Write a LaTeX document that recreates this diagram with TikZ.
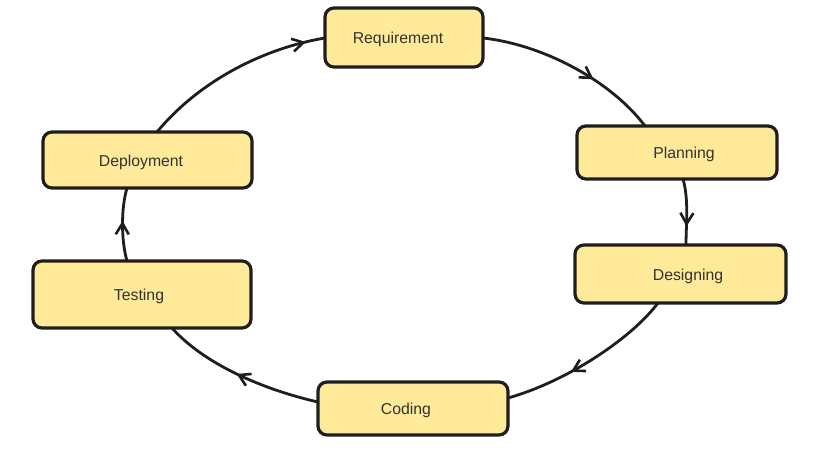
\documentclass[tikz,border=0pt]{standalone}
\usepackage{fontspec}
\setmainfont{Liberation Sans}
\usetikzlibrary{arrows.meta,decorations.markings,calc}
\definecolor{boxfill}{HTML}{FFEA99}
\definecolor{ink}{HTML}{1E1E1E}
\definecolor{txt}{HTML}{333333}
\tikzset{
  box/.style={draw=ink, fill=boxfill, line width=3.2pt, rounded corners=9pt, inner sep=0pt},
  lbl/.style={text=txt, font=\fontsize{15.8}{18}\selectfont, inner sep=0pt, yshift=-2pt},
  conn/.style={draw=ink, line width=2.8pt, line cap=round},
  midarrow/.style={postaction={decorate}, decoration={markings,
      mark=at position #1 with {\arrow{Straight Barb[length=11pt,width=13pt,line width=2.6pt]}}}}
}
\begin{document}
\begin{tikzpicture}[x=1pt,y=1pt]
\useasboundingbox (0,0) rectangle (838,-455);
\fill[white] (0,0) rectangle (838,-455);

% connectors (drawn first, under the boxes)
\coordinate (r1) at (483,-38);
\coordinate (p0) at (645,-126);
\coordinate (p1) at (683,-179);
\coordinate (d0) at (686,-245);
\coordinate (d1) at (658,-303);
\coordinate (c0) at (508,-398);
\coordinate (c1) at (318,-402);
\coordinate (t0) at (172,-328);
\coordinate (t1) at (127,-261);
\coordinate (e0) at (127,-188);
\coordinate (e1) at (157,-132);
\coordinate (r0) at (325,-38);

\path[conn, midarrow=0.63] (r1) .. controls (545,-45) and (612,-82) .. (p0);
\path[conn, midarrow=0.72] (p1) .. controls (689,-200) and (686,-225) .. (d0);
\path[conn, midarrow=0.62] (d1) .. controls (630,-340) and (565,-382) .. (c0);
\path[conn, midarrow=0.52] (c1) .. controls (265,-390) and (205,-365) .. (t0);
\path[conn, midarrow=0.55] (t1) .. controls (121,-240) and (121,-208) .. (e0);
\path[conn, midarrow=0.9] (e1) .. controls (200,-80) and (265,-48) .. (r0);

% boxes
\node[box, minimum width=158, minimum height=59,
  label={[lbl,xshift=-6]center:Requirement}] (req) at (404,-37.5) {};
\node[box, minimum width=200, minimum height=53,
  label={[lbl,xshift=7]center:Planning}] (plan) at (677,-152.5) {};
\node[box, minimum width=211, minimum height=58,
  label={[lbl,xshift=7.5]center:Designing}] (des) at (680.5,-274) {};
\node[box, minimum width=190, minimum height=53,
  label={[lbl,xshift=-7]center:Coding}] (cod) at (413,-408.5) {};
\node[box, minimum width=218, minimum height=67,
  label={[lbl,xshift=-3]center:Testing}] (tes) at (142,-294.5) {};
\node[box, minimum width=209, minimum height=56,
  label={[lbl,xshift=-6.5]center:Deployment}] (dep) at (147.5,-160) {};
\end{tikzpicture}
\end{document}
